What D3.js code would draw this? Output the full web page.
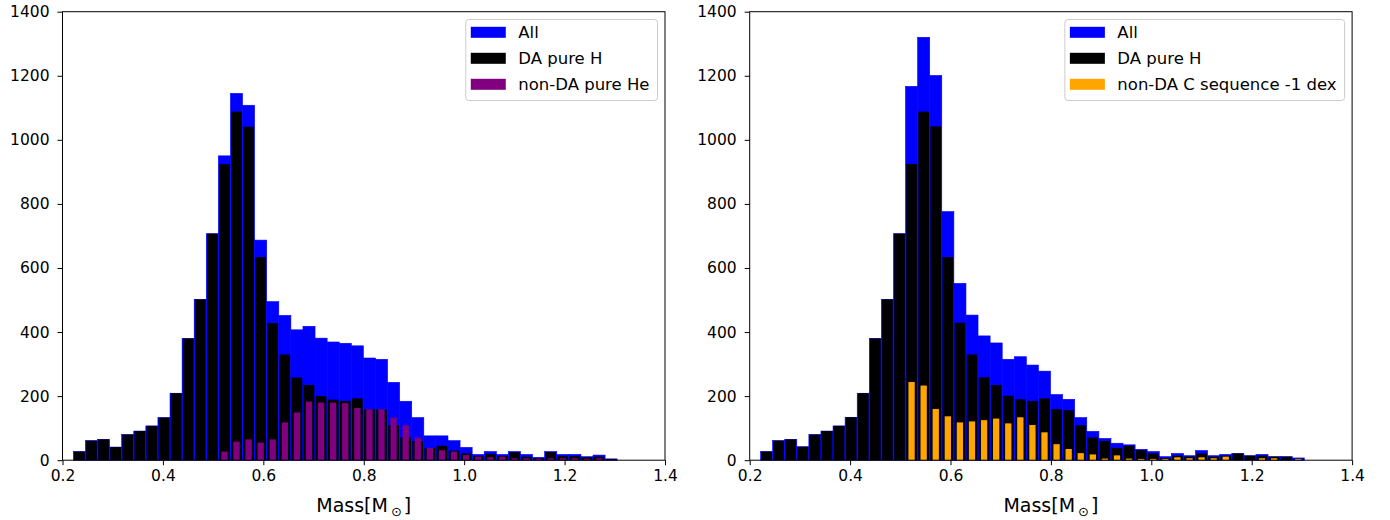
<!DOCTYPE html>
<html>
<head>
<meta charset="utf-8">
<script src="https://cdn.jsdelivr.net/npm/d3@7"></script>
<style>
  html, body { margin: 0; padding: 0; background: #fff; }
  svg { display: block; font-family: "DejaVu Sans", sans-serif; }
</style>
</head>
<body>
<svg id="chart" width="1390" height="520"></svg>
<script>
// ---- Data (counts per mass bin) ----
const binStart = 0.2216;   // lower edge of first bin (M_sun)
const binWidth = 0.02407;  // bin width (M_sun)

const leftAll = [27, 61, 65, 41, 80, 91, 107, 133, 209, 380, 502, 707, 950, 1145, 1108, 687, 495, 452, 407, 418,
                 381, 369, 365, 357, 319, 315, 243, 184, 133, 76, 76, 61, 40, 18, 27, 18, 27, 18, 9, 27,
                 18, 18, 11, 16, 4];
const leftDA  = [27, 61, 65, 41, 80, 91, 107, 133, 209, 380, 502, 707, 924, 1088, 1041, 634, 428, 330, 258, 235,
                 200, 189, 185, 193, 159, 158, 109, 71, 60, 38, 45, 30, 21, 13, 19, 13, 25, 11, 6, 25,
                 13, 13, 9, 11, 4];
const leftHe  = [0, 0, 0, 0, 0, 0, 0, 0, 0, 0, 0, 0, 27, 58, 65, 55, 65, 118, 149, 183,
                 180, 180, 178, 163, 159, 159, 133, 109, 71, 38, 31, 27, 16, 11, 9, 11, 6, 6, 4, 6,
                 6, 6, 4, 6, 0];

const rightAll = [27, 61, 65, 42, 80, 91, 107, 134, 209, 380, 502, 707, 1167, 1320, 1201, 776, 552, 453, 388, 366,
                  315, 323, 297, 278, 205, 190, 133, 90, 68, 53, 48, 34, 27, 11, 21, 14, 30, 14, 18, 21,
                  14, 18, 11, 11, 7];
const rightDA  = [27, 61, 65, 42, 80, 91, 107, 134, 209, 380, 502, 707, 925, 1088, 1042, 634, 429, 330, 259, 235,
                  201, 190, 185, 193, 159, 156, 109, 71, 60, 38, 45, 31, 21, 6, 14, 11, 21, 11, 14, 21,
                  14, 14, 11, 11, 4];
const rightC   = [0, 0, 0, 0, 0, 0, 0, 0, 0, 0, 0, 0, 244, 233, 160, 137, 118, 121, 125, 130,
                  115, 134, 110, 87, 50, 35, 22, 18, 5, 15, 5, 4, 4, 4, 9, 6, 9, 6, 11, 0,
                  0, 6, 6, 0, 4];

const xTicks = [0.2, 0.4, 0.6, 0.8, 1.0, 1.2, 1.4];
const yTicks = [0, 200, 400, 600, 800, 1000, 1200, 1400];

const leftLabels  = ["All", "DA pure H", "non-DA pure He"];
const rightLabels = ["All", "DA pure H", "non-DA C sequence -1 dex"];

const colAll = "#0000ff", colDA = "#000000", colHe = "#800080", colC = "#ffa500";

// ---- Drawing ----
const svg = d3.select("#chart");
const yTop = 11.7, yBot = 460.2;

function panel(xLeft, xRight, all, da, other, otherColor, labels) {
  const x = d3.scaleLinear().domain([0.2, 1.4]).range([xLeft, xRight]);
  const y = d3.scaleLinear().domain([0, 1400]).range([yBot, yTop]);
  const g = svg.append("g");

  const edge = i => binStart + i * binWidth;

  function bars(vals, color, rw, stroke) {
    g.append("g").selectAll("rect").data(vals).join("rect")
      .attr("x", (d, i) => {
        const l = x(edge(i)), r = x(edge(i + 1));
        return l + (r - l) * (1 - rw) / 2;
      })
      .attr("width", (d, i) => (x(edge(i + 1)) - x(edge(i))) * rw)
      .attr("y", d => y(d))
      .attr("height", d => y(0) - y(d))
      .attr("fill", color)
      .attr("stroke", stroke ? color : "none")
      .attr("stroke-width", stroke ? 0.6 : 0);
  }
  bars(all, colAll, 1.0, true);
  bars(da, colDA, 0.88, false);
  bars(other, otherColor, 0.52, false);

  // frame
  g.append("rect")
    .attr("x", xLeft).attr("y", yTop)
    .attr("width", xRight - xLeft).attr("height", yBot - yTop)
    .attr("fill", "none").attr("stroke", "#000").attr("stroke-width", 1);

  // x axis
  const xa = g.append("g").attr("transform", `translate(0,${yBot})`)
    .call(d3.axisBottom(x).tickValues(xTicks).tickFormat(d3.format(".1f")).tickSizeOuter(0).tickSize(5).tickPadding(5));
  xa.select(".domain").remove();
  xa.selectAll("text").attr("font-size", "15.5px").attr("fill", "#000").attr("font-family", "DejaVu Sans");
  xa.selectAll("line").attr("stroke", "#000");

  // y axis
  const ya = g.append("g").attr("transform", `translate(${xLeft},0)`)
    .call(d3.axisLeft(y).tickValues(yTicks).tickFormat(d3.format("d")).tickSizeOuter(0).tickSize(5).tickPadding(8));
  ya.select(".domain").remove();
  ya.selectAll("text").attr("font-size", "15.5px").attr("fill", "#000").attr("font-family", "DejaVu Sans");
  ya.selectAll("line").attr("stroke", "#000");

  // x label
  const lbl = g.append("text")
    .attr("x", (xLeft + xRight) / 2).attr("y", 512)
    .attr("text-anchor", "middle").attr("font-size", "19px").attr("fill", "#000");
  lbl.append("tspan").text("Mass[M");
  lbl.append("tspan").attr("font-size", "13px").attr("dx", 3).attr("dy", 4).text("\u2299");
  lbl.append("tspan").attr("dx", 2).attr("dy", -4).text("]");

  // legend
  const colors = [colAll, colDA, otherColor];
  const lg = g.append("g");
  const box = lg.append("rect");
  const rowY = [32.3, 58.3, 84.3];
  const texts = labels.map((t, i) => lg.append("text")
    .attr("y", rowY[i]).attr("dy", "0.36em")
    .attr("font-size", "16.5px").attr("fill", "#000").text(t));
  const maxW = d3.max(texts, t => t.node().getComputedTextLength());
  const boxRight = xRight - 7.5;
  const boxW = 5 + 35 + 12.5 + maxW + 8;
  const boxLeft = boxRight - boxW;
  box.attr("x", boxLeft).attr("y", 19.5).attr("width", boxW).attr("height", 81)
    .attr("rx", 3).attr("fill", "rgba(255,255,255,0.8)").attr("stroke", "#cccccc").attr("stroke-width", 1);
  colors.forEach((c, i) => {
    lg.append("rect").attr("x", boxLeft + 5).attr("y", rowY[i] - 5.5)
      .attr("width", 35).attr("height", 11).attr("fill", c);
  });
  texts.forEach(t => t.attr("x", boxLeft + 5 + 35 + 12.5));
}

panel(62.5, 665, leftAll, leftDA, leftHe, colHe, leftLabels);
panel(749.7, 1352.1, rightAll, rightDA, rightC, colC, rightLabels);
</script>
</body>
</html>
